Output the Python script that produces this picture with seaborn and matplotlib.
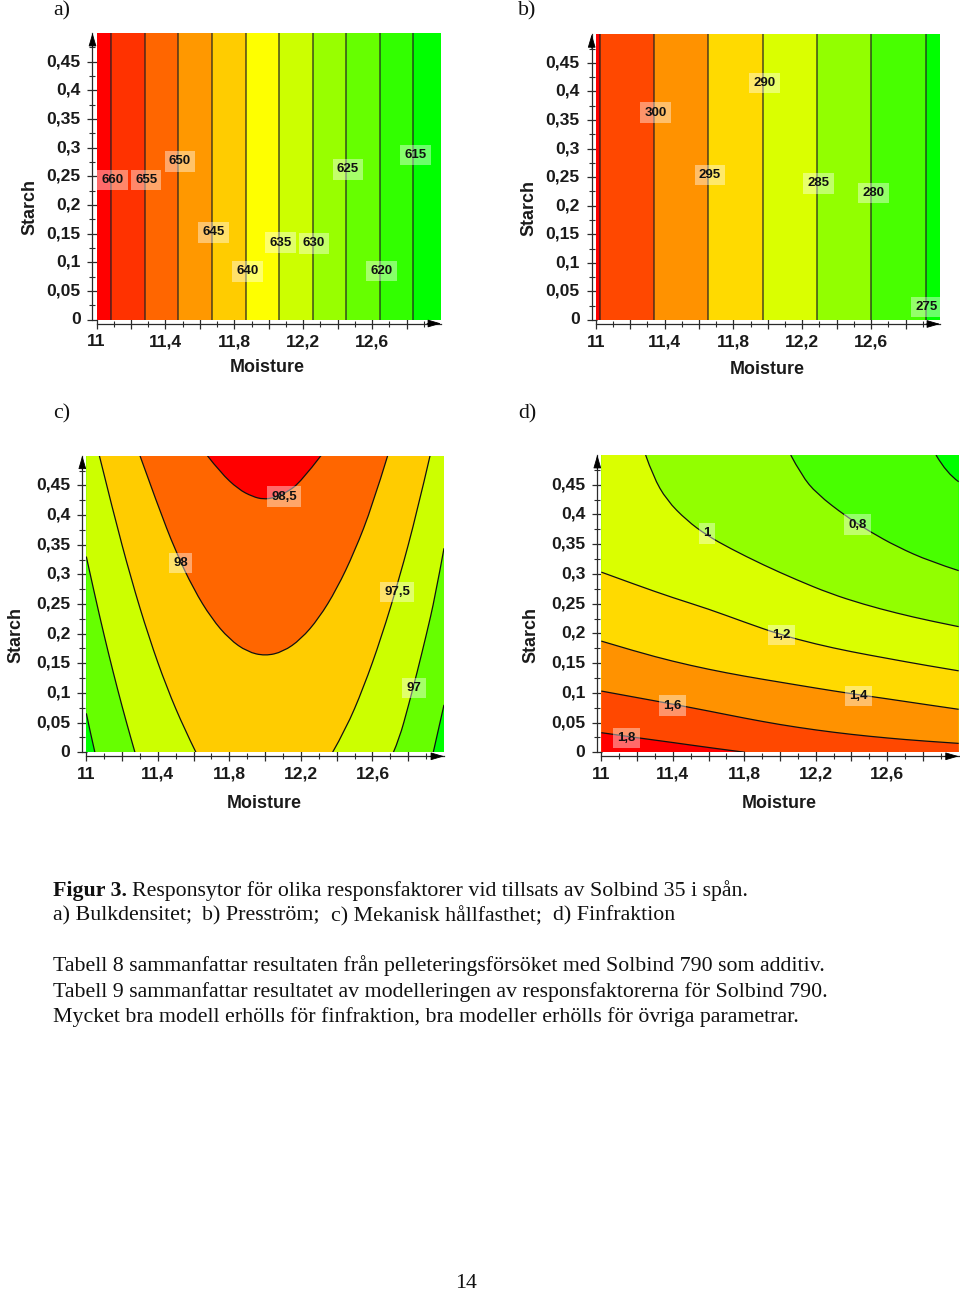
from matplotlib import pyplot as plt
from matplotlib.patches import PathPatch
from matplotlib.path import Path
from matplotlib.transforms import Affine2D, ScaledTranslation
import seaborn as sns

# values
xtick_major = [11, 11.2, 11.4, 11.6, 11.8, 12, 12.2, 12.4, 12.6, 12.8]
xtick_minor = [11.1, 11.3, 11.5, 11.7, 11.9, 12.1, 12.3, 12.5, 12.7, 12.9]
xtick_labels = ['11', '', '11,4', '', '11,8', '', '12,2', '', '12,6', '']
ytick_major = [0, 0.05, 0.1, 0.15, 0.2, 0.25, 0.3, 0.35, 0.4, 0.45]
ytick_minor = [0.025, 0.075, 0.125, 0.175, 0.225, 0.275, 0.325, 0.375, 0.425, 0.475]
ytick_labels = ['0', '0,05', '0,1', '0,15', '0,2', '0,25', '0,3', '0,35', '0,4', '0,45']

# a) vertical bands, moisture where each level is crossed
a_lines = [11.085, 11.28, 11.476, 11.671, 11.867, 12.062, 12.255, 12.45, 12.644, 12.839]
a_text = ['660', '655', '650', '645', '640', '635', '630', '625', '620', '615']
a_text_x = [11.093, 11.288, 11.485, 11.679, 11.876, 12.07, 12.263, 12.46, 12.654, 12.853]
a_text_y = [0.243, 0.243, 0.276, 0.152, 0.084, 0.134, 0.133, 0.262, 0.085, 0.287]

# b) same thing
b_lines = [11.025, 11.337, 11.652, 11.972, 12.286, 12.60, 12.917]
b_text = ['300', '295', '290', '285', '280', '275']
b_text_x = [11.348, 11.664, 11.982, 12.295, 12.613, 12.923]
b_text_y = [0.363, 0.254, 0.415, 0.239, 0.222, 0.023]

# c) contours, low to high, each one a list of branches (moisture, starch)
c_965 = [([11, 11.025, 11.048], [0.0657, 0.03, 0]),
         ([12.94, 12.97, 13], [0, 0.04, 0.08])]
c_970 = [([11, 11.05, 11.1, 11.15, 11.2, 11.25, 11.272], [0.33, 0.2616, 0.1966, 0.1352, 0.0773, 0.0229, 0]),
         ([12.717, 12.75, 12.8, 12.85, 12.9, 12.95, 13], [0, 0.0229, 0.0773, 0.1352, 0.1966, 0.2616, 0.344])]
c_975 = [([11.073, 11.15, 11.25, 11.35, 11.45, 11.55, 11.613], [0.5, 0.4058, 0.2928, 0.1938, 0.109, 0.0384, 0]),
         ([12.377, 12.45, 12.55, 12.65, 12.75, 12.85, 12.922], [0, 0.0384, 0.109, 0.194, 0.293, 0.406, 0.5])]
c_980 = [([11.30, 11.40, 11.50, 11.60, 11.70, 11.80, 11.90, 12.00, 12.10, 12.20, 12.30, 12.40, 12.50, 12.60, 12.685],
          [0.5, 0.416, 0.3384, 0.275, 0.2258, 0.1906, 0.1694, 0.1624, 0.1694, 0.1906, 0.2258, 0.275, 0.3384, 0.416, 0.5])]
c_985 = [([11.677, 11.75, 11.85, 11.93, 11.99, 12.05, 12.12, 12.2, 12.312],
          [0.5, 0.4717, 0.4434, 0.431, 0.4265, 0.429, 0.438, 0.456, 0.5])]
c_levels = [c_965, c_970, c_975, c_980, c_985]
c_text = ['98,5', '98', '97,5', '97']
c_text_x = [12.105, 11.529, 12.737, 12.832]
c_text_y = [0.431, 0.319, 0.270, 0.108]

# d) contours, low to high
d_06 = [([12.873, 12.933, 13], [0.5, 0.469, 0.455])]
d_08 = [([12.06, 12.12, 12.205, 12.373, 12.504, 12.653, 12.84, 13], [0.5, 0.466, 0.435, 0.396, 0.371, 0.346, 0.321, 0.3055])]
d_10 = [([11.248, 11.29, 11.366, 11.478, 11.59, 11.72, 11.907, 12.093, 12.28, 12.466, 12.653, 12.84, 13],
         [0.5, 0.464, 0.424, 0.39, 0.365, 0.343, 0.315, 0.29, 0.267, 0.249, 0.234, 0.221, 0.2113])]
d_12 = [([11, 11.2, 11.4, 11.6, 11.8, 12, 12.2, 12.4, 12.6, 12.8, 13],
         [0.303, 0.281, 0.26, 0.241, 0.219, 0.198, 0.182, 0.169, 0.158, 0.147, 0.137])]
d_14 = [([11, 11.2, 11.4, 11.6, 11.8, 12, 12.2, 12.4, 12.6, 12.8, 13],
         [0.187, 0.169, 0.153, 0.1395, 0.128, 0.118, 0.108, 0.0985, 0.09, 0.081, 0.0723])]
d_16 = [([11, 11.2, 11.4, 11.6, 11.8, 12, 12.2, 12.4, 12.6, 12.8, 13],
         [0.103, 0.092, 0.081, 0.0695, 0.0575, 0.0465, 0.0375, 0.03, 0.024, 0.019, 0.015])]
d_18 = [([11, 11.2, 11.4, 11.6, 11.804], [0.033, 0.0245, 0.0165, 0.008, 0])]
d_levels = [d_06, d_08, d_10, d_12, d_14, d_16, d_18]
d_text = ['1', '0,8', '1,2', '1,4', '1,6', '1,8']
d_text_x = [11.591, 12.433, 12.009, 12.438, 11.399, 11.14]
d_text_y = [0.368, 0.383, 0.197, 0.0947, 0.0785, 0.024]

caption_parts = ['a) Bulkdensitet;', 'b) Presström;', 'c) Mekanisk hållfasthet;', 'd) Finfraktion']
caption_parts_x = [53, 202, 331, 553]
caption_lines = [
    'Tabell 8 sammanfattar resultaten från pelleteringsförsöket med Solbind 790 som additiv.',
    'Tabell 9 sammanfattar resultatet av modelleringen av responsfaktorerna för Solbind 790.',
    'Mycket bra modell erhölls för finfraktion, bra modeller erhölls för övriga parametrar.',
]
caption_y = [966, 992, 1017]

sns.set_style('white')
plt.rcParams['font.family'] = ['Liberation Sans', 'DejaVu Sans']

W, H = 960, 1292
fig = plt.figure(figsize=(W / 100, H / 100), dpi=100)
px = Affine2D().scale(1 / W, -1 / H).translate(0, 1) + fig.transFigure
INK = '#2a2a2a'


def red_to_green(n):
    return sns.blend_palette(['#ff0000', '#ffff00', '#00ff00'], n)


def make_axes(left, top, right, bottom, starch_pos, moisture_pos):
    ax = fig.add_axes([left / W, 1 - bottom / H, (right - left) / W, (bottom - top) / H])
    ax.set_xlim(11, 13)
    ax.set_ylim(0, 0.5)

    for side in ['top', 'right']:
        ax.spines[side].set_visible(False)
    # set_position resets the ticks, so this goes before any tick styling
    for side in ['left', 'bottom']:
        ax.spines[side].set_position(('outward', 3))
        ax.spines[side].set_color(INK)
        ax.spines[side].set_linewidth(0.9)

    ax.set_xticks(xtick_major)
    ax.set_xticklabels(xtick_labels, fontweight='bold')
    ax.set_xticks(xtick_minor, minor=True)
    ax.set_yticks(ytick_major)
    ax.set_yticklabels(ytick_labels, fontweight='bold')
    ax.set_yticks(ytick_minor, minor=True)
    ax.tick_params(axis='both', which='major', direction='inout', length=7, width=0.9, color=INK,
                   labelsize=12.6, labelcolor='#1a1a1a', bottom=True, left=True)
    ax.tick_params(axis='both', which='minor', direction='inout', length=4, width=0.8, color=INK,
                   bottom=True, left=True)
    ax.tick_params(axis='x', which='major', pad=4)
    ax.tick_params(axis='y', which='major', pad=5)

    # the y labels sit a little above their ticks in the original
    nudge = ScaledTranslation(0, 1.5 / 100, fig.dpi_scale_trans)
    for label in ax.get_yticklabels():
        label.set_transform(label.get_transform() + nudge)

    # arrow heads at the axis ends
    w, h = right - left, bottom - top
    arrow = dict(arrowstyle='-|>,head_length=0.75,head_width=0.22', color='black', lw=0.6,
                 mutation_scale=11, shrinkA=0, shrinkB=0)
    ax.annotate('', xy=(w, -4), xytext=(w - 14, -4), xycoords='axes pixels',
                textcoords='axes pixels', arrowprops=arrow, annotation_clip=False)
    ax.annotate('', xy=(-4, h), xytext=(-4, h - 14), xycoords='axes pixels',
                textcoords='axes pixels', arrowprops=arrow, annotation_clip=False)

    ax.set_xlabel('Moisture', fontsize=12.9, fontweight='bold', color='#1a1a1a')
    ax.xaxis.set_label_coords(moisture_pos[0], moisture_pos[1] + 1, transform=px)
    ax.xaxis.label.set_verticalalignment('center')
    ax.set_ylabel('Starch', fontsize=12.9, fontweight='bold', color='#1a1a1a')
    ax.yaxis.set_label_coords(starch_pos[0] + 2, starch_pos[1], transform=px)
    ax.yaxis.label.set_verticalalignment('center')
    return ax


def add_labels(ax, texts, xs, ys):
    for t, x, y in zip(texts, xs, ys):
        ax.text(x, y, t, ha='center', va='center', fontsize=9.5, fontweight='bold', color='#111111',
                zorder=5, bbox=dict(boxstyle='square,pad=0.32', fc='white', ec='none', alpha=0.42))


def draw_bands(ax, lines, colors):
    edges = [11] + lines + [13]
    for i in range(len(colors)):
        ax.axvspan(edges[i], edges[i + 1], color=colors[i], lw=0, zorder=1)
    for x in lines:
        sns.lineplot(x=[x, x], y=[0, 0.5], sort=False, estimator=None, color='#222222', alpha=0.8,
                     lw=1.1, ax=ax, zorder=3)


def curve_path(bx, by):
    # quadratic segments through the read points, so the contours are not angular
    pts = list(zip(bx, by))
    verts, codes = [pts[0]], [Path.MOVETO]
    for i in range(1, len(pts) - 1):
        end = pts[-1] if i == len(pts) - 2 else ((pts[i][0] + pts[i + 1][0]) / 2, (pts[i][1] + pts[i + 1][1]) / 2)
        verts += [pts[i], end]
        codes += [Path.CURVE3, Path.CURVE3]
    return verts, codes


def draw_contours(ax, levels, colors, corners):
    # painter style: lowest colour first, then each level on top of it
    ax.axhspan(0, 0.5, color=colors[0], lw=0, zorder=1)
    for i, branches in enumerate(levels):
        verts, codes = [], []
        for bx, by in branches:
            v, c = curve_path(bx, by)
            verts += v
            codes += [Path.MOVETO if not codes else Path.LINETO] + c[1:]
        verts += corners + [verts[0]]
        codes += [Path.LINETO] * len(corners) + [Path.CLOSEPOLY]
        ax.add_patch(PathPatch(Path(verts, codes), fc=colors[i + 1], ec='none', lw=0, zorder=2))
    for branches in levels:
        for bx, by in branches:
            v, c = curve_path(bx, by)
            ax.add_patch(PathPatch(Path(v, c), fill=False, ec='#111111', lw=0.9, zorder=3))


# panel a
ax_a = make_axes(96.5, 33, 441, 319.5, (28, 207), (267, 367))
draw_bands(ax_a, a_lines, red_to_green(len(a_lines) + 1))
add_labels(ax_a, a_text, a_text_x, a_text_y)

# panel b
ax_b = make_axes(595.7, 34.3, 940, 320, (527, 208), (767, 368))
draw_bands(ax_b, b_lines, red_to_green(len(b_lines) + 1))
add_labels(ax_b, b_text, b_text_x, b_text_y)

# panel c, colours run green to red going up, area above each contour
ax_c = make_axes(86.3, 455.7, 444, 752.3, (14, 635), (264, 802))
draw_contours(ax_c, c_levels, red_to_green(len(c_levels) + 1)[::-1], [(13, 0.5), (11, 0.5)])
add_labels(ax_c, c_text, c_text_x, c_text_y)

# panel d, area below each contour
ax_d = make_axes(601.3, 455, 958.7, 752.3, (529, 635), (779, 802))
draw_contours(ax_d, d_levels, red_to_green(len(d_levels) + 1)[::-1], [(13, 0), (11, 0), (11, 0.5)])
add_labels(ax_d, d_text, d_text_x, d_text_y)

# document text around the charts
serif = ['Liberation Serif', 'DejaVu Serif']
body = dict(transform=px, family=serif, fontsize=15.73, va='center', color='#111111')
for t, x, y in [('a)', 53, 11), ('b)', 518, 11), ('c)', 53, 414), ('d)', 518, 414)]:
    fig.text(x, y, t, **body)

fig.text(53, 891, 'Figur 3.', fontweight='bold', **body)
fig.text(132, 891, 'Responsytor för olika responsfaktorer vid tillsats av Solbind 35 i spån.', **body)
for t, x in zip(caption_parts, caption_parts_x):
    fig.text(x, 916, t, **body)
for t, y in zip(caption_lines, caption_y):
    fig.text(53, y, t, **body)
fig.text(466, 1284, '14', ha='center', **body)

fig.savefig('out.png', dpi=100)
